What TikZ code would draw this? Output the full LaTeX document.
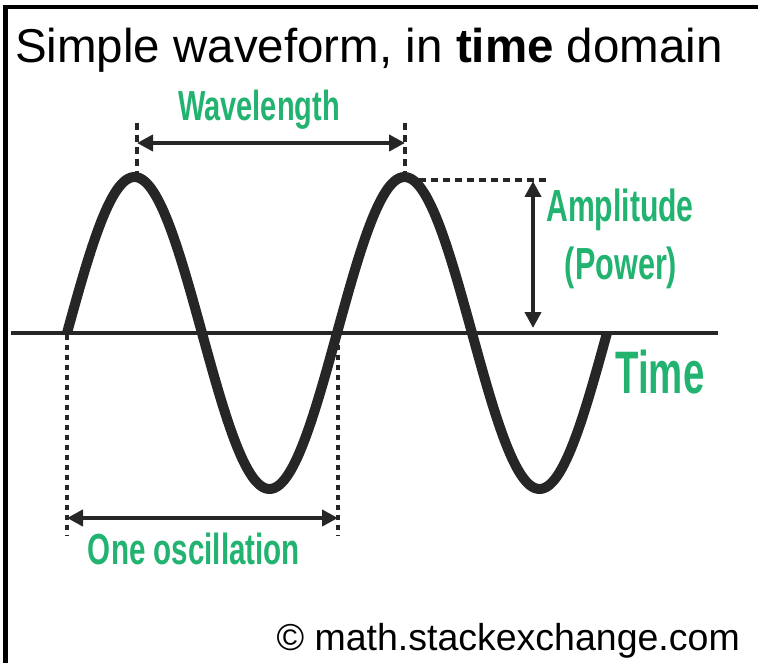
\documentclass[tikz,border=0pt]{standalone}
\usepackage{fontspec}
\setmainfont{Liberation Sans}
\usepackage{graphicx}
\usetikzlibrary{arrows.meta}
\definecolor{labelgreen}{HTML}{22B371}
\definecolor{inkgrey}{HTML}{262626}
\newcommand{\narrow}[2][0.67]{\scalebox{#1}[1]{#2}}
\tikzset{
  wave/.style={line width=10pt, color=inkgrey, line join=round},
  axisline/.style={line width=3.5pt, color=inkgrey},
  measure/.style={{Triangle[length=16pt,width=16pt]}-{Triangle[length=16pt,width=16pt]}, line width=4pt, color=inkgrey},
  guide/.style={line width=4pt, color=inkgrey, dash pattern=on 7pt off 5pt},
  lbl/.style={text=labelgreen, inner sep=0pt}
}

\begin{document}
\begin{tikzpicture}[x=1pt, y=-1pt]
\useasboundingbox (0,0) rectangle (758,663);
% frame
\draw[line width=4.5pt] (5.5,663) -- (5.5,7) -- (758,7);

% named points on the wave
\coordinate (start) at (67,333);
\coordinate (peakA) at (137,177);
\coordinate (peakB) at (405,177);
\coordinate (cross) at (338,333);
\coordinate (axisL) at (11,333);
\coordinate (axisR) at (718,333);

\draw[axisline] (axisL) -- (axisR);
\draw[wave] plot[domain=67:607, samples=240] (\x, {333 - 156*sin((\x-67)/270*360)});

% wavelength
\coordinate (wlA) at (137,123);
\coordinate (wlB) at (405,123);
\coordinate (wlL) at (137,143);
\coordinate (wlR) at (405,143);
\draw[guide] (wlA) -- ([yshift=-2pt]peakA);
\draw[guide] (wlB) -- ([yshift=-2pt]peakB);
\draw[measure] (wlL) -- (wlR);
\node[lbl, font=\fontsize{42}{46}\selectfont\bfseries] (wavelength) at (259,110) {\narrow[0.69]{Wavelength}};

% amplitude
\coordinate (ampEnd) at (548,180);
\coordinate (ampTop) at (533,181);
\coordinate (ampBot) at (533,328);
\draw[guide] ([xshift=14pt]peakB |- ampEnd) -- (ampEnd);
\draw[measure] (ampTop) -- (ampBot);
\node[lbl, font=\fontsize{45}{50}\selectfont\bfseries] (amplitude) at (620,210) {\narrow{Amplitude}};
\node[lbl, font=\fontsize{45}{50}\selectfont\bfseries] (power) at (621,268) {\narrow[0.68]{(Power)}};

% time axis label
\node[lbl, font=\fontsize{60}{66}\selectfont\bfseries] (time) at (660,372) {\narrow[0.64]{Time}};

% one oscillation
\coordinate (oscA) at (67,536);
\coordinate (oscB) at (338,536);
\coordinate (oscL) at (67,518);
\coordinate (oscR) at (338,518);
\draw[guide, dash pattern=on 5pt off 5pt] ([yshift=8pt]start) -- (oscA);
\draw[guide, dash pattern=on 5pt off 5pt] ([yshift=8pt]cross) -- (oscB);
\draw[measure] (oscL) -- (oscR);
\node[lbl, font=\fontsize{43.5}{48}\selectfont\bfseries] (oscillation) at (194,549) {\narrow[0.68]{One oscillation}};

% texts
\node[anchor=base west, inner sep=0pt, font=\fontsize{47.5}{56}\selectfont] (title) at (15,63) {Simple waveform, in \textbf{time} domain};
\node[anchor=base east, inner sep=0pt, font=\fontsize{37.5}{44}\selectfont] (credit) at (740,650) {© math.stackexchange.com};
\end{tikzpicture}
\end{document}
